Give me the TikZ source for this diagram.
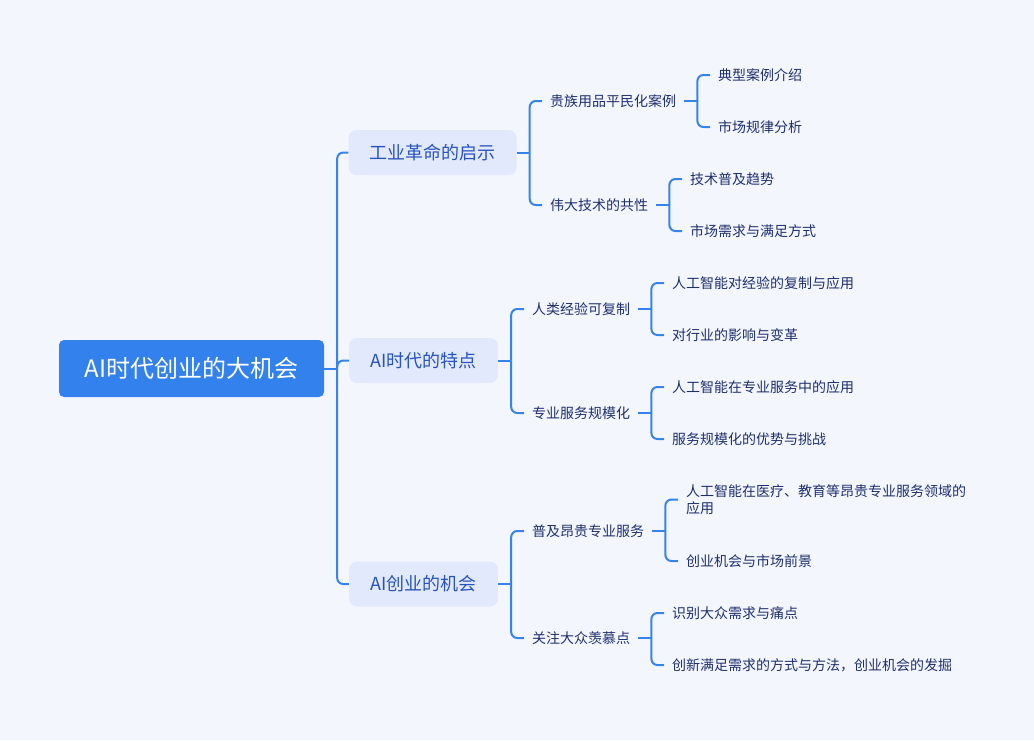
\documentclass[tikz,border=0pt]{standalone}
\usepackage{fontspec}
\setmainfont{Noto Sans CJK SC}
\usetikzlibrary{calc}
\definecolor{bg}{HTML}{F4F6FE}
\definecolor{rootfill}{HTML}{3381EC}
\definecolor{lvlfill}{HTML}{E2E9FD}
\definecolor{lvltext}{HTML}{2653BE}
\definecolor{smalltext}{HTML}{1F2F6E}
\definecolor{linecol}{HTML}{3584EE}
\tikzset{
  rootbox/.style={fill=rootfill, rounded corners=5pt, minimum width=265pt, minimum height=57pt, text=white, font=\fontsize{24}{28}\selectfont, inner sep=0pt},
  lvlbox/.style={fill=lvlfill, rounded corners=8pt, minimum height=45pt, inner xsep=21pt, inner ysep=0pt, text=lvltext, font=\fontsize{18}{22}\selectfont},
  leaf/.style={anchor=west, inner xsep=8pt, inner ysep=2pt, text=smalltext, font=\fontsize{14}{17.5}\selectfont, align=left},
  conn/.style={draw=linecol, line width=2pt, rounded corners=6pt}
}
\begin{document}
\begin{tikzpicture}[x=1pt,y=-1pt]
\fill[bg] (0,0) rectangle (1034,740);
\useasboundingbox (0,0) rectangle (1034,740);

% root
\node[rootbox] (root) at (191.5,368.5) {AI时代创业的大机会};

% level 1
\node[lvlbox, minimum width=167pt] (a) at (432.5,152.5) {工业革命的启示};
\node[lvlbox, minimum width=149pt] (b) at (423.5,360.5) {AI时代的特点};
\node[lvlbox, minimum width=149pt] (c) at (423.5,584) {AI创业的机会};

% level 2
\node[leaf] (a1) at (542,101) {贵族用品平民化案例};
\node[leaf] (a2) at (542,205) {伟大技术的共性};
\node[leaf] (b1) at (524,309) {人类经验可复制};
\node[leaf] (b2) at (524,413) {专业服务规模化};
\node[leaf] (c1) at (524,531) {普及昂贵专业服务};
\node[leaf] (c2) at (524,638) {关注大众羡慕点};

% level 3
\node[leaf] (a11) at (710,75) {典型案例介绍};
\node[leaf] (a12) at (710,127) {市场规律分析};
\node[leaf] (a21) at (682,179) {技术普及趋势};
\node[leaf] (a22) at (682,231) {市场需求与满足方式};
\node[leaf] (b11) at (664,283) {人工智能对经验的复制与应用};
\node[leaf] (b12) at (664,335) {对行业的影响与变革};
\node[leaf] (b21) at (664,387) {人工智能在专业服务中的应用};
\node[leaf] (b22) at (664,439) {服务规模化的优势与挑战};
\node[leaf] (c11) at (678,499.5) {人工智能在医疗、教育等昂贵专业服务领域的\\应用};
\node[leaf] (c12) at (678,561) {创业机会与市场前景};
\node[leaf] (c21) at (664,613) {识别大众需求与痛点};
\node[leaf] (c22) at (664,665) {创新满足需求的方式与方法，创业机会的发掘};

% connectors
\coordinate (j0) at ($(root.east)+(13,0)$);
\draw[conn] (root.east) -- (j0);
\foreach \ch in {a,b,c} \draw[conn] (j0) |- (\ch.west);

\foreach \p/\ca/\cb in {a/a1/a2, b/b1/b2, c/c1/c2, a1/a11/a12, a2/a21/a22, b1/b11/b12, b2/b21/b22, c1/c11/c12, c2/c21/c22}{
  \coordinate (j\p) at ($(\p.east)+(13,0)$);
  \draw[conn] (\p.east) -- (j\p);
  \draw[conn] (j\p) |- (\ca.west);
  \draw[conn] (j\p) |- (\cb.west);
}
\end{tikzpicture}
\end{document}
